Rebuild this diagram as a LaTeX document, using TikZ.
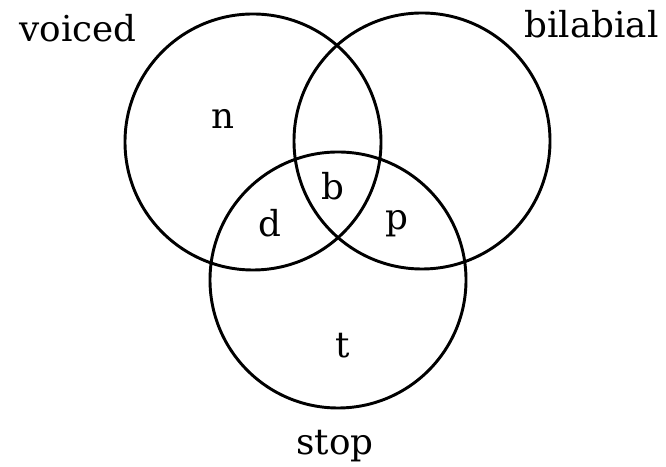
\documentclass[tikz,border=0pt]{standalone}
\usepackage{fontspec}
\setmainfont{DejaVu Serif}
\usetikzlibrary{positioning}

\begin{document}
\begin{tikzpicture}[font=\fontsize{30.5}{34}\selectfont,
  venn/.style={circle, draw, line width=2.5pt, minimum size=7.68cm, inner sep=0pt},
  lab/.style={anchor=base, inner sep=1pt}]
  \useasboundingbox (0, 0) rectangle (19.98, 14.01);
  % the three sets
  \node[venn] (voicedset) at (7.59, 9.75) {};
  \node[venn] (labialset) at (12.66, 9.78) {};
  \node[venn] (stopset) at (10.14, 5.61) {};
  % set names
  \node[lab] (voiced) at (2.34, 12.75) {voiced};
  \node[lab] (bilabial) at (17.75, 12.87) {bilabial};
  \node[lab] (stop) at (10.05, 0.36) {stop};
  % sounds in the regions
  \node[lab] (n) at (6.69, 10.14) {n};
  \node[lab] (b) at (9.99, 8.01) {b};
  \node[lab] (d) at (8.10, 6.90) {d};
  \node[lab] (p) at (11.91, 7.11) {p};
  \node[lab] (t) at (10.29, 3.27) {t};
\end{tikzpicture}
\end{document}
